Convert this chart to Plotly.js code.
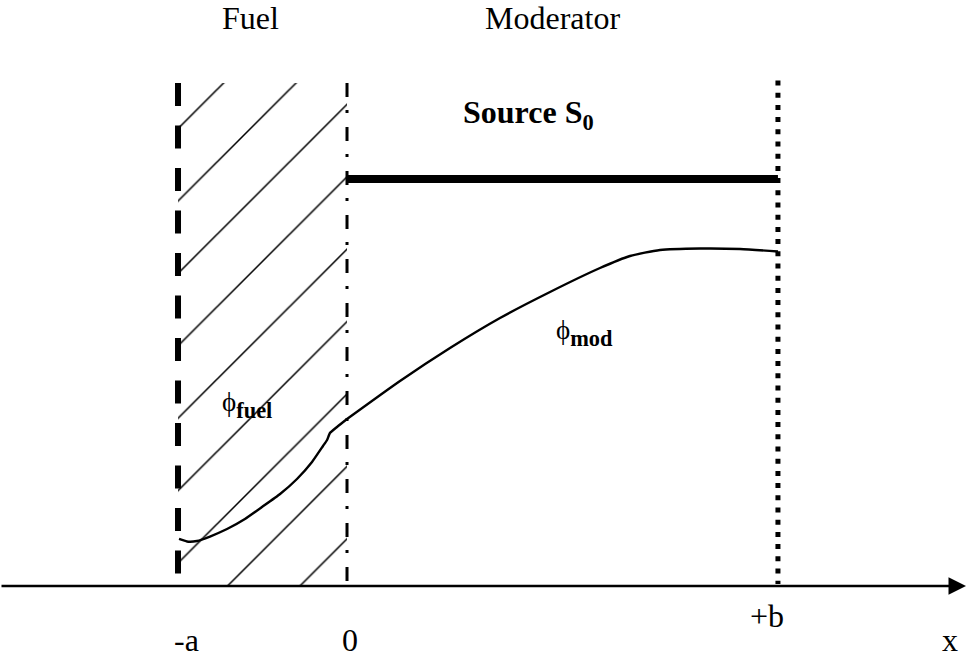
<!DOCTYPE html>
<html><head><meta charset="utf-8">
<script src="https://cdn.plot.ly/plotly-3.0.1.min.js"></script>
<style>html,body{margin:0;padding:0;background:#fff}</style>
</head><body><div id="chart" style="width:966px;height:659px"></div>
<script>
// ---- data (units: x in fuel half-thickness a, y in source level S0) ----
const A = 1;            // fuel region edge at x = -a
const B = 2.55;         // moderator outer edge at x = +b
const S0 = 1;           // source level in the moderator
const REGION_TOP = 1.236;

const fuelX = [-0.994, -0.947, -0.888, -0.811, -0.710, -0.604, -0.503, -0.396, -0.296, -0.207, -0.142, -0.118, -0.101, -0.059, 0];
const fuelY = [0.1155, 0.1093, 0.1106, 0.1216, 0.1400, 0.1646, 0.1941, 0.2260, 0.2629, 0.3047, 0.3440, 0.3587, 0.3759, 0.3907, 0.4103];

const modX = [0, 0.3136, 0.6095, 0.9053, 1.2012, 1.4970, 1.6746, 1.8521, 2.0888, 2.3254, 2.5503];
const modY = [0.4103, 0.5037, 0.5848, 0.6585, 0.7224, 0.7813, 0.8108, 0.8256, 0.8292, 0.8280, 0.8219];

const regionLabels = ['Fuel', 'Moderator'];
const tickLabels = ['-a', '0', '+b', 'x'];

const FONT = 'Liberation Serif';

const traces = [
  { // hatched fuel region
    x: [-A, 0, 0, -A], y: [0, 0, REGION_TOP, REGION_TOP],
    type: 'scatter', mode: 'lines', fill: 'toself',
    line: {width: 0, color: 'rgba(0,0,0,0)'},
    fillcolor: 'rgba(0,0,0,0)',
    fillpattern: {shape: '/', size: 51.2, solidity: 0.03, fgcolor: '#000', bgcolor: 'rgba(0,0,0,0)', fillmode: 'replace'},
    hoverinfo: 'skip'
  },
  {x: fuelX, y: fuelY, type: 'scatter', mode: 'lines', line: {color: '#000', width: 2.4, shape: 'spline', smoothing: 0.4}, hoverinfo: 'skip'},
  {x: modX, y: modY, type: 'scatter', mode: 'lines', line: {color: '#000', width: 2.4, shape: 'spline', smoothing: 0.6}, hoverinfo: 'skip'}
];

const shapes = [
  {type: 'line', xref: 'x', yref: 'y', x0: -A, x1: -A, y0: REGION_TOP, y1: 0.0197, line: {color: '#000', width: 6, dash: '23px,19.5px'}},
  {type: 'line', xref: 'x', yref: 'y', x0: 0, x1: 0, y0: REGION_TOP, y1: 0, line: {color: '#000', width: 3, dash: '14px,13px,3px,14px'}},
  {type: 'line', xref: 'x', yref: 'y', x0: B, x1: B, y0: 1.242, y1: 0.005, line: {color: '#000', width: 5, dash: '5px,7.2px'}},
  {type: 'line', xref: 'x', yref: 'y', x0: 0, x1: B, y0: S0, y1: S0, line: {color: '#000', width: 8}}
];

const f32 = {family: FONT, size: 32, color: '#000'};
const annotations = [
  // x axis with arrow
  {xref: 'x', yref: 'y', x: 3.6627, y: 0, axref: 'x', ayref: 'y', ax: -2.0533, ay: 0, text: '', showarrow: true,
   arrowhead: 2, arrowsize: 1.4, arrowwidth: 2.5, arrowcolor: '#000', standoff: 0, startstandoff: 0},
  {xref: 'x', yref: 'paper', x: -0.574, y: 0.9984, xanchor: 'center', yanchor: 'middle', borderpad: 0, text: regionLabels[0], showarrow: false, font: f32},
  {xref: 'x', yref: 'paper', x: 1.213, y: 0.9984, xanchor: 'center', yanchor: 'middle', borderpad: 0, text: regionLabels[1], showarrow: false, font: f32},
  {xref: 'x', yref: 'y', x: 1.071, y: 1.158, text: '<b>Source S<sub>0</sub></b>', showarrow: false, font: f32},
  {xref: 'x', yref: 'y', x: 1.408, y: 0.621, text: '<span style="font-size:27px">ϕ</span><sub><b>mod</b></sub>', showarrow: false, font: f32},
  {xref: 'x', yref: 'y', x: -0.592, y: 0.445, text: '<span style="font-size:27px">ϕ</span><sub><b>fuel</b></sub>', showarrow: false, font: f32},
  {xref: 'x', yref: 'y', x: -0.947, y: -0.133, text: tickLabels[0], showarrow: false, font: f32},
  {xref: 'x', yref: 'y', x: 0.018, y: -0.133, text: tickLabels[1], showarrow: false, font: f32},
  {xref: 'x', yref: 'y', x: 2.485, y: -0.074, text: tickLabels[2], showarrow: false, font: f32},
  {xref: 'x', yref: 'y', x: 3.568, y: -0.133, text: tickLabels[3], showarrow: false, font: f32}
];

const layout = {
  width: 966, height: 659,
  margin: {l: 0, r: 0, t: 17, b: 0, pad: 0},
  paper_bgcolor: '#fff', plot_bgcolor: '#fff',
  showlegend: false,
  xaxis: {range: [-2.0533, 3.6627], visible: false, fixedrange: true},
  yaxis: {range: [-0.17936, 1.39803], visible: false, fixedrange: true},
  shapes: shapes,
  annotations: annotations
};

Plotly.newPlot('chart', traces, layout, {staticPlot: true, displayModeBar: false});
</script>
</body></html>
